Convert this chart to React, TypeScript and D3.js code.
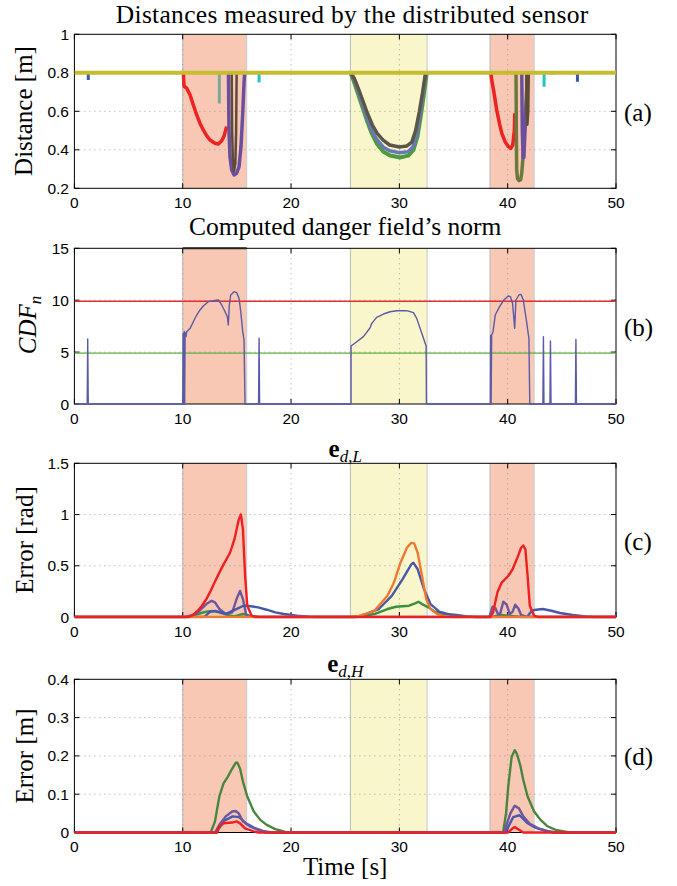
import React from "react";
import * as d3 from "d3";

type P = [number, number | null];

// ---------- DATA ----------
const xTicks = [0, 10, 20, 30, 40, 50];
const redBands: [number, number][] = [[10.0, 15.9], [38.37, 42.44]];
const yellowBands: [number, number][] = [[25.48, 32.56]];

// Panel (a) distances
const distTicks = [0.2, 0.4, 0.6, 0.8, 1];
const distMax = [[0, 0.8], [50, 0.8]] as P[];
const distBlue: P[] = [[1.28, 0.8], [1.28, 0.763], [1.28, null], [46.44, 0.8], [46.44, 0.754]];
const distRed: P[] = [[10.0, 0.8], [10.06, 0.8], [10.12, 0.73], [10.37, 0.72], [10.68, 0.685], [10.98, 0.633], [11.29, 0.581], [11.6, 0.537], [11.9, 0.503], [12.22, 0.472], [12.52, 0.451], [12.98, 0.434], [13.29, 0.43], [13.6, 0.447], [13.82, 0.472], [14.0, 0.511], [14.06, 0.52], [14.06, null],
  [38.44, 0.8], [38.53, 0.762], [38.75, 0.693], [38.99, 0.606], [39.24, 0.537], [39.46, 0.485], [39.76, 0.442], [40.07, 0.416], [40.28, 0.407], [40.47, 0.425], [40.62, 0.503], [40.65, 0.59]];
const distTeal: P[] = [[13.38, 0.8], [13.38, 0.641]];
const distCyan: P[] = [[17.05, 0.8], [17.05, 0.749], [17.05, null], [43.36, 0.8], [43.36, 0.728], [43.36, null], [44.07, 0.8], [44.07, 0.79]];
const distPurple: P[] = [[14.22, 0.8], [14.27, 0.503], [14.36, 0.364], [14.52, 0.295], [14.74, 0.269], [14.98, 0.278], [15.2, 0.313], [15.38, 0.417], [15.54, 0.59], [15.66, 0.745], [15.72, 0.8], [15.72, null],
  [41.3, 0.8], [41.35, 0.5], [41.42, 0.36], [41.5, 0.36], [41.6, 0.5], [41.72, 0.62], [41.85, 0.8]];
const distBrown: P[] = [[14.52, 0.8], [14.56, 0.5], [14.63, 0.35], [14.74, 0.29], [14.86, 0.33], [14.93, 0.5], [14.98, 0.8], [14.98, null],
  [41.72, 0.8], [41.76, 0.6], [41.82, 0.53], [41.9, 0.6], [41.95, 0.8]];
const distOlive: P[] = [[40.77, 0.8], [40.8, 0.5], [40.83, 0.3], [40.9, 0.25], [41.05, 0.24], [41.2, 0.245], [41.3, 0.28], [41.4, 0.35], [41.55, 0.5], [41.7, 0.65], [41.82, 0.8]];
const distGreen: P[] = [[25.48, 0.8], [25.76, 0.762], [26.07, 0.71], [26.53, 0.632], [26.99, 0.555], [27.45, 0.485], [27.91, 0.433], [28.53, 0.39], [29.14, 0.37], [30.06, 0.36], [30.83, 0.37], [31.3, 0.399], [31.67, 0.468], [31.97, 0.572], [32.28, 0.693], [32.53, 0.8]];
const distSlate: P[] = [[25.5, 0.8], [25.8, 0.77], [26.1, 0.72], [26.55, 0.645], [27.0, 0.57], [27.45, 0.5], [27.9, 0.455], [28.5, 0.415], [29.1, 0.395], [30.0, 0.385], [30.8, 0.39], [31.25, 0.415], [31.6, 0.48], [31.9, 0.58], [32.2, 0.7], [32.45, 0.8]];
const distDark: P[] = [[25.5, 0.8], [25.85, 0.77], [26.2, 0.72], [26.6, 0.66], [27.05, 0.59], [27.5, 0.53], [27.95, 0.485], [28.5, 0.45], [29.1, 0.425], [30.0, 0.415], [30.7, 0.42], [31.15, 0.44], [31.5, 0.5], [31.85, 0.6], [32.15, 0.7], [32.42, 0.8]];

// Panel (b) danger field norm
const cdfTicks = [0, 5, 10, 15];
const cdfHigh = 9.9;
const cdfLow = 4.9;
const cdfTop: P[] = [[10.0, 15], [15.9, 15]];
const cdfMain: P[] = [[0, 0], [1.18, 0], [1.23, 6.26], [1.28, 0], [10.0, 0], [10.04, 6.8], [10.08, 0], [10.14, 7.0], [10.18, 0], [10.22, 6.9], [10.3, 6.5], [10.37, 6.97], [10.68, 7.29], [10.98, 7.93], [11.29, 8.57], [11.6, 9.06], [11.9, 9.44], [12.36, 9.86], [12.83, 9.95], [13.29, 10.02], [13.6, 9.54], [13.91, 8.89], [14.12, 8.41], [14.21, 7.61], [14.3, 9.54], [14.43, 10.5], [14.74, 10.82], [14.98, 10.73], [15.2, 10.18], [15.36, 8.89], [15.54, 6.97], [15.66, 6.17], [15.75, 0],
  [17.0, 0], [17.05, 6.33], [17.1, 0], [25.54, 0], [25.54, 5.59], [26.07, 6.0], [26.68, 6.49], [27.3, 7.35], [27.45, 7.77], [27.91, 8.35], [28.53, 8.67], [29.14, 8.89], [29.76, 8.99], [30.68, 8.99], [31.3, 8.8], [31.6, 8.25], [32.07, 6.81], [32.47, 5.59], [32.5, 0],
  [38.4, 0], [38.43, 6.6], [38.47, 0], [38.52, 6.65], [38.65, 6.97], [38.85, 8.57], [39.25, 9.38], [39.65, 10.02], [40.05, 10.4], [40.25, 10.35], [40.45, 9.7], [40.65, 7.29], [40.76, 10.02], [41.04, 10.5], [41.24, 10.56], [41.44, 10.02], [41.72, 8.1], [41.96, 6.33], [42.04, 0],
  [43.25, 0], [43.3, 6.49], [43.35, 0], [43.9, 0], [43.95, 6.07], [44.0, 0], [46.25, 0], [46.3, 6.23], [46.35, 0], [50, 0]];

// Panel (c) e_{d,L}
const errLTicks = [0, 0.5, 1, 1.5];
const errLGreen: P[] = [[0, 0], [10.4, 0], [11.39, 0.029], [12.18, 0.052], [12.78, 0.058], [13.38, 0.045], [14.17, 0.019], [14.77, 0.006], [15.56, 0.029], [16.16, 0.013], [16.96, 0.003], [17.5, 0], [25.8, 0], [26.5, 0.006], [27.7, 0.029], [28.9, 0.078], [29.7, 0.1], [30.9, 0.11], [31.5, 0.136], [31.77, 0.149], [32.09, 0.126], [32.68, 0.094], [33.28, 0.052], [34.1, 0.029], [35.3, 0.019], [36.27, 0.006], [37, 0], [38.6, 0], [39.3, 0.02], [40.0, 0.013], [41, 0.003], [42, 0], [50, 0]];
const errLPurple: P[] = [[0, 0], [10.2, 0], [10.8, 0.015], [11.39, 0.045], [12.18, 0.126], [12.66, 0.158], [12.98, 0.142], [13.38, 0.078], [13.97, 0.029], [14.57, 0.045], [14.97, 0.175], [15.29, 0.255], [15.56, 0.175], [15.84, 0.029], [16.16, 0.006], [16.5, 0], [38.3, 0], [38.6, 0.1], [38.85, 0.09], [39.1, 0.03], [39.3, 0.03], [39.6, 0.15], [39.9, 0.12], [40.2, 0.03], [40.45, 0.05], [40.7, 0.12], [41.0, 0.08], [41.24, 0.02], [41.64, 0.006], [42, 0], [50, 0]];
const errLBlue: P[] = [[0, 0], [12.0, 0], [12.5, 0.05], [13.0, 0.06], [14.0, 0.03], [15.0, 0.08], [15.6, 0.11], [15.96, 0.11], [16.96, 0.094], [17.75, 0.071], [18.55, 0.045], [19.35, 0.029], [20.54, 0.013], [21.7, 0.003], [22.5, 0], [26.0, 0], [26.5, 0.013], [28.1, 0.078], [29.3, 0.207], [30.3, 0.37], [31.1, 0.514], [31.29, 0.53], [31.69, 0.466], [32.28, 0.27], [32.88, 0.126], [33.68, 0.052], [34.87, 0.019], [36.07, 0.006], [37, 0], [41.8, 0], [42.2, 0.06], [42.44, 0.068], [43.23, 0.078], [44.03, 0.061], [44.83, 0.039], [46.0, 0.019], [47.2, 0.006], [48, 0], [50, 0]];
const errLOrange: P[] = [[0, 0], [25.5, 0], [26.3, 0.01], [26.9, 0.03], [27.7, 0.06], [28.1, 0.11], [28.9, 0.207], [29.5, 0.336], [30.1, 0.53], [30.7, 0.676], [31.1, 0.724], [31.37, 0.718], [31.69, 0.627], [32.09, 0.4], [32.48, 0.175], [32.88, 0.078], [33.48, 0.03], [34.1, 0.006], [35, 0], [50, 0]];
const errLRed: P[] = [[0, 0], [10.5, 0], [10.9, 0.015], [11.39, 0.061], [11.78, 0.11], [12.18, 0.175], [12.58, 0.255], [12.98, 0.346], [13.38, 0.433], [13.77, 0.514], [14.37, 0.627], [14.77, 0.757], [15.17, 0.95], [15.37, 1.0], [15.56, 0.854], [15.76, 0.401], [15.96, 0.11], [16.36, 0.013], [16.8, 0], [38.4, 0], [38.65, 0.045], [39.05, 0.24], [39.45, 0.336], [40.05, 0.4], [40.45, 0.466], [40.84, 0.563], [41.24, 0.676], [41.44, 0.698], [41.64, 0.66], [41.84, 0.4], [42.04, 0.11], [42.44, 0.013], [42.8, 0], [50, 0]];

// Panel (d) e_{d,H}
const errHTicks = [0, 0.1, 0.2, 0.3, 0.4];
const errHGreen: P[] = [[0, 0], [12.58, 0], [12.98, 0.029], [13.38, 0.094], [13.77, 0.128], [14.17, 0.146], [14.57, 0.167], [14.89, 0.182], [15.05, 0.182], [15.29, 0.167], [15.56, 0.133], [15.96, 0.094], [16.56, 0.055], [17.16, 0.033], [17.75, 0.02], [18.55, 0.009], [19.15, 0.004], [19.6, 0], [39.57, 0], [39.85, 0.05], [40.05, 0.12], [40.37, 0.198], [40.65, 0.215], [40.84, 0.206], [41.16, 0.176], [41.44, 0.137], [41.84, 0.094], [42.44, 0.055], [43.03, 0.033], [43.63, 0.017], [44.43, 0.007], [45.2, 0.003], [45.8, 0], [50, 0]];
const errHBlue: P[] = [[0, 0], [13.1, 0], [13.8, 0.03], [14.6, 0.042], [15.2, 0.04], [15.8, 0.025], [16.6, 0.012], [17.4, 0.004], [18.2, 0], [39.8, 0], [40.5, 0.04], [41.1, 0.045], [41.8, 0.025], [42.6, 0.012], [43.5, 0.004], [44.3, 0], [50, 0]];
const errHPurple: P[] = [[0, 0], [12.98, 0], [13.38, 0.02], [13.97, 0.042], [14.57, 0.055], [14.89, 0.056], [15.17, 0.05], [15.56, 0.029], [16.16, 0.016], [16.96, 0.007], [17.7, 0], [39.65, 0], [40.25, 0.05], [40.65, 0.07], [41.04, 0.063], [41.44, 0.042], [42.04, 0.023], [42.83, 0.011], [43.83, 0.003], [44.5, 0], [50, 0]];
const errHRed: P[] = [[0, 0], [13.18, 0], [13.38, 0.016], [13.77, 0.024], [14.57, 0.026], [14.97, 0.029], [15.29, 0.024], [15.76, 0.011], [16.56, 0.003], [17, 0], [40.05, 0], [40.45, 0.011], [40.65, 0.014], [41.04, 0.007], [41.44, 0], [50, 0]];

// ---------- LAYOUT ----------
const X0 = 74.4, X1 = 616;
const SANS = "'Liberation Sans', Arial, Helvetica, sans-serif";
const SERIF = "'Liberation Serif', 'Times New Roman', serif";

type Series = { data: P[]; color: string; width: number };

const x = d3.scaleLinear().domain([0, 50]).range([X0, X1]);

function Panel(props: {
  id: string; top: number; bottom: number; domain: [number, number]; ticks: number[];
  fmt: (v: number) => string; series: Series[]; label: string;
}) {
  const { id, top, bottom, domain, ticks, fmt, series, label } = props;
  const y = d3.scaleLinear().domain(domain).range([bottom, top]);
  const line = d3.line<P>().defined(d => d[1] !== null).x(d => x(d[0])).y(d => y(d[1] as number));
  const clip = `clip-${id}`;
  const bandRect = (b: [number, number], fill: string, k: string) => (
    <g key={k}>
      <rect x={x(b[0])} y={top} width={x(b[1]) - x(b[0])} height={bottom - top} fill={fill} />
      <line x1={x(b[0])} x2={x(b[0])} y1={top} y2={bottom} stroke="#b8b8b8" strokeWidth={1} />
      <line x1={x(b[1])} x2={x(b[1])} y1={top} y2={bottom} stroke="#cfcfcf" strokeWidth={1.2} />
    </g>
  );
  const inner = ticks.filter(t => t > domain[0] && t < domain[1]);
  return (
    <g>
      <defs>
        <clipPath id={clip}><rect x={X0} y={top - 1.5} width={X1 - X0} height={bottom - top + 3} /></clipPath>
      </defs>
      {redBands.map((b, i) => bandRect(b, "#f9c8b4", "r" + i))}
      {yellowBands.map((b, i) => bandRect(b, "#faf6cc", "y" + i))}
      {xTicks.slice(1, -1).map(t => (
        <line key={"gx" + t} x1={x(t)} x2={x(t)} y1={top} y2={bottom} stroke="#8a8a8a" strokeWidth={0.8} strokeDasharray="1,4" />
      ))}
      {inner.map(t => (
        <line key={"gy" + t} x1={X0} x2={X1} y1={y(t)} y2={y(t)} stroke="#8a8a8a" strokeWidth={0.8} strokeDasharray="1,4" />
      ))}
      {xTicks.map(t => (
        <g key={"tx" + t}>
          <line x1={x(t)} x2={x(t)} y1={bottom} y2={bottom - 5} stroke="#000" />
          <line x1={x(t)} x2={x(t)} y1={top} y2={top + 5} stroke="#000" />
          <text x={x(t)} y={bottom + 14} textAnchor="middle" dominantBaseline="central" fontFamily={SANS} fontSize={15.5}>{t}</text>
        </g>
      ))}
      {ticks.map(t => (
        <g key={"ty" + t}>
          <line x1={X0} x2={X0 + 5} y1={y(t)} y2={y(t)} stroke="#000" />
          <line x1={X1} x2={X1 - 5} y1={y(t)} y2={y(t)} stroke="#000" />
          <text x={69} y={y(t)} textAnchor="end" dominantBaseline="central" fontFamily={SANS} fontSize={15.5}>{fmt(t)}</text>
        </g>
      ))}
      <rect x={X0} y={top} width={X1 - X0} height={bottom - top} fill="none" stroke="#000" strokeWidth={1} />
      <g clipPath={`url(#${clip})`}>
        {series.map((s, i) => (
          <path key={i} d={line(s.data) || ""} fill="none" stroke={s.color} strokeWidth={s.width} strokeLinejoin="round" />
        ))}
      </g>
      <text x={624} y={(top + bottom) / 2 + 1} dominantBaseline="central" fontFamily={SERIF} fontSize={25}>{label}</text>
    </g>
  );
}

export default function App() {
  const fmtDec = (v: number) => (v === 0 || v === 1 ? String(v) : d3.format(".1f")(v));
  const fmtInt = (v: number) => String(v);
  const cx = (X0 + X1) / 2;
  return (
    <svg width={677} height={886} style={{ position: "absolute", left: 0, top: 0, background: "#fff" }}>
      <rect width={677} height={886} fill="#fff" />
      {/* (a) */}
      <text x={cx + 7} y={23} textAnchor="middle" fontFamily={SERIF} fontSize={25.5} letterSpacing={0.3}>Distances measured by the distributed sensor</text>
      <Panel id="a" top={34.3} bottom={188.3} domain={[0.2, 1]} ticks={distTicks} fmt={fmtDec} label="(a)"
        series={[
          { data: distBlue, color: "#3a56a8", width: 3 },
          { data: distRed, color: "#ee2222", width: 3.5 },
          { data: distTeal, color: "#7aa898", width: 3 },
          { data: distCyan, color: "#22c4c8", width: 3 },
          { data: distOlive, color: "#6b7a3a", width: 3.5 },
          { data: distPurple, color: "#6b4f9e", width: 3.5 },
          { data: distBrown, color: "#5c4b3b", width: 2.5 },
          { data: distGreen, color: "#4e9a3e", width: 4 },
          { data: distSlate, color: "#6878b4", width: 3.5 },
          { data: distDark, color: "#5a5648", width: 3.5 },
          { data: distMax, color: "#c6bd2e", width: 4 },
        ]} />
      <text transform="translate(32,111) rotate(-90)" textAnchor="middle" fontFamily={SERIF} fontSize={25}>Distance [m]</text>

      {/* (b) */}
      <text x={cx} y={235} textAnchor="middle" fontFamily={SERIF} fontSize={25.5}>Computed danger field’s norm</text>
      <Panel id="b" top={248.3} bottom={404} domain={[0, 15]} ticks={cdfTicks} fmt={fmtInt} label="(b)"
        series={[
          { data: cdfTop, color: "#222", width: 2 },
          { data: [[0, cdfHigh], [50, cdfHigh]], color: "#e03030", width: 1.3 },
          { data: [[0, cdfLow], [50, cdfLow]], color: "#5cb040", width: 1.3 },
          { data: cdfMain, color: "#5a5aa6", width: 1.4 },
        ]} />
      <text transform="translate(36,325) rotate(-90)" textAnchor="middle" fontFamily={SERIF} fontSize={25} fontStyle="italic">
        CDF<tspan fontSize={17} dy={5}>n</tspan>
      </text>

      {/* (c) */}
      <text x={cx} y={457} textAnchor="middle" fontFamily={SERIF} fontSize={25}>
        <tspan fontWeight="bold">e</tspan><tspan fontSize={17} dy={5}><tspan fontStyle="italic">d</tspan>,<tspan fontStyle="italic">L</tspan></tspan>
      </text>
      <Panel id="c" top={463.3} bottom={617} domain={[0, 1.5]} ticks={errLTicks} fmt={(v) => String(v)} label="(c)"
        series={[
          { data: errLGreen, color: "#3a9040", width: 2.4 },
          { data: errLPurple, color: "#6a58a0", width: 2.4 },
          { data: errLBlue, color: "#4858a8", width: 2.4 },
          { data: errLOrange, color: "#f07830", width: 2.4 },
          { data: errLRed, color: "#f02020", width: 2.4 },
        ]} />
      <text transform="translate(33,540) rotate(-90)" textAnchor="middle" fontFamily={SERIF} fontSize={25}>Error [rad]</text>

      {/* (d) */}
      <text x={cx} y={672} textAnchor="middle" fontFamily={SERIF} fontSize={25}>
        <tspan fontWeight="bold">e</tspan><tspan fontSize={17} dy={5}><tspan fontStyle="italic">d</tspan>,<tspan fontStyle="italic">H</tspan></tspan>
      </text>
      <Panel id="d" top={679.3} bottom={832.5} domain={[0, 0.4]} ticks={errHTicks} fmt={fmtDec} label="(d)"
        series={[
          { data: errHGreen, color: "#4a8540", width: 2.4 },
          { data: errHBlue, color: "#4858b0", width: 2.4 },
          { data: errHPurple, color: "#6a58a0", width: 2.4 },
          { data: errHRed, color: "#f02020", width: 2.4 },
        ]} />
      <text transform="translate(33,756) rotate(-90)" textAnchor="middle" fontFamily={SERIF} fontSize={25}>Error [m]</text>
      <text x={cx} y={875} textAnchor="middle" fontFamily={SERIF} fontSize={25}>Time [s]</text>
    </svg>
  );
}
